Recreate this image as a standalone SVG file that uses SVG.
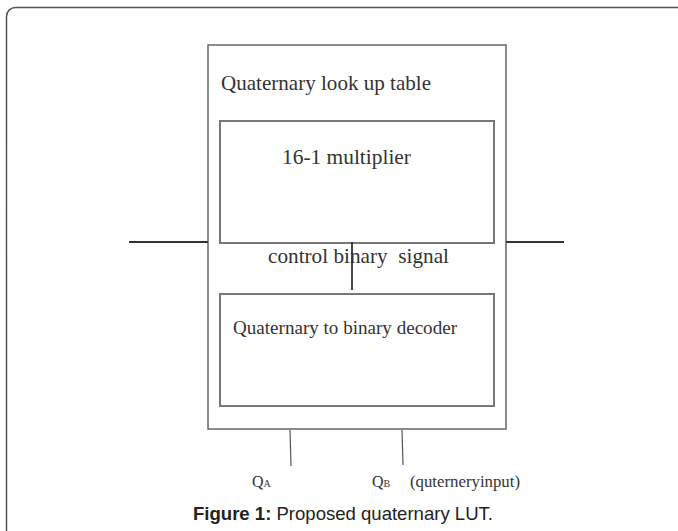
<svg xmlns="http://www.w3.org/2000/svg" width="678" height="531" viewBox="0 0 678 531">
<style>
.frame{fill:#fff;stroke:#555;stroke-width:1.5}
.box{fill:none;stroke:#666;stroke-width:1.5}
.ibox{fill:none;stroke:#777;stroke-width:2}
.wire{stroke:#333;stroke-width:1.8;fill:none}
.pin{stroke:#555;stroke-width:1.2;fill:none}
.t{font-family:"Liberation Serif","Times New Roman",serif;fill:#333}
.cap{font-family:"Liberation Sans",Arial,sans-serif;font-size:18.5px;fill:#222}
</style>
<rect width="678" height="531" fill="#fff"/>
<rect class="frame" x="6.5" y="7.5" width="690" height="540" rx="9"/>
<g id="lut">
<rect class="box" x="208" y="45" width="298" height="384"/>
<text class="t" x="221" y="90" font-size="21" textLength="210" lengthAdjust="spacingAndGlyphs">Quaternary look up table</text>
</g>
<g id="mux">
<rect class="ibox" x="220" y="121" width="274" height="122"/>
<text class="t" x="282" y="164" font-size="21" textLength="129" lengthAdjust="spacingAndGlyphs">16-1 multiplier</text>
</g>
<g id="decoder">
<rect class="ibox" x="220" y="294" width="274" height="112"/>
<text class="t" x="233" y="334" font-size="19" textLength="224" lengthAdjust="spacingAndGlyphs">Quaternary to binary decoder</text>
</g>
<g id="connectors">
<line class="wire" x1="129" y1="242" x2="208" y2="242"/>
<line class="wire" x1="506" y1="242" x2="564" y2="242"/>
<line class="wire" x1="352" y1="242" x2="352" y2="290"/>
<line class="pin" x1="290" y1="430" x2="291" y2="466"/>
<line class="pin" x1="402" y1="430" x2="403" y2="465"/>
</g>
<g id="labels">
<text class="t" x="268" y="263" font-size="21" textLength="181" lengthAdjust="spacingAndGlyphs" xml:space="preserve">control binary  signal</text>
<text class="t" x="252" y="487" font-size="16">Q<tspan font-size="10">A</tspan></text>
<text class="t" x="372" y="487" font-size="16">Q<tspan font-size="10">B</tspan></text>
<text class="t" x="410" y="487" font-size="16" textLength="110" lengthAdjust="spacingAndGlyphs">(quterneryinput)</text>
</g>
<text class="cap" x="193" y="520" textLength="300" lengthAdjust="spacingAndGlyphs"><tspan font-weight="bold">Figure 1:</tspan> Proposed quaternary LUT.</text>
</svg>
